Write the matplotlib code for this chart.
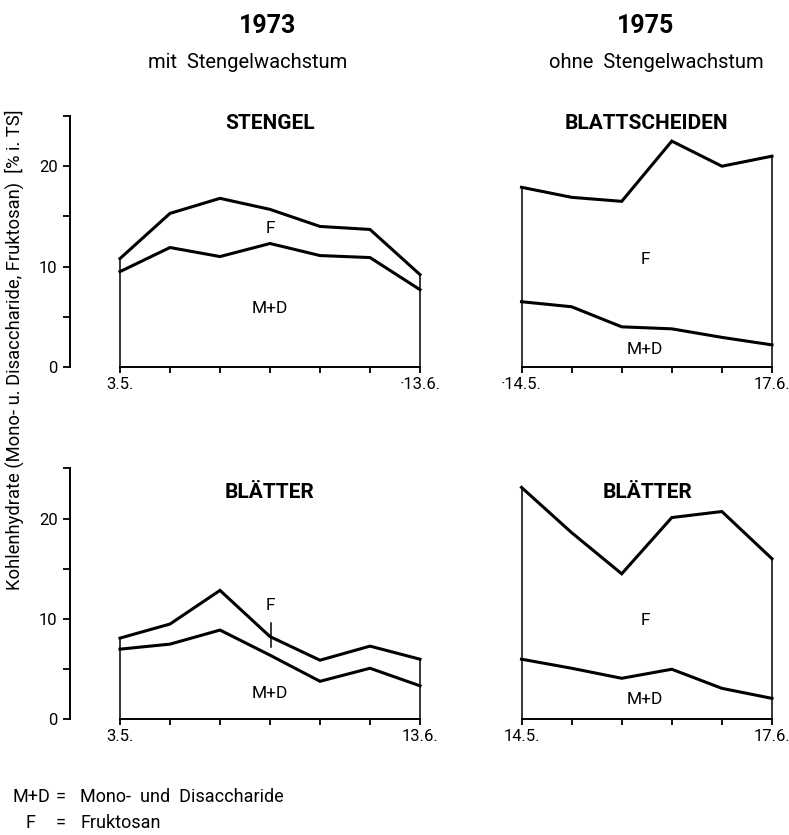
import matplotlib
matplotlib.use("Agg")
import matplotlib.pyplot as plt

plt.rcParams['font.family'] = ['Roboto', 'DejaVu Sans']

# 1973, mit Stengelwachstum (7 Termine)
dates_1973 = ["3.5.", "", "", "", "", "", "13.6."]
stengel_f = [10.8, 15.3, 16.8, 15.7, 14.0, 13.7, 9.2]
stengel_md = [9.5, 11.9, 11.0, 12.3, 11.1, 10.9, 7.7]
blaetter73_f = [8.1, 9.5, 12.85, 8.25, 5.9, 7.3, 6.0]
blaetter73_md = [7.0, 7.5, 8.9, 6.4, 3.8, 5.1, 3.35]

# 1975, ohne Stengelwachstum (6 Termine)
dates_1975 = ["14.5.", "", "", "", "", "17.6."]
scheiden_f = [17.9, 16.9, 16.5, 22.5, 20.0, 21.0]
scheiden_md = [6.5, 6.0, 4.0, 3.8, 2.95, 2.2]
blaetter75_f = [23.1, 18.6, 14.5, 20.1, 20.7, 16.0]
blaetter75_md = [6.0, 5.1, 4.1, 5.0, 3.1, 2.1]

W, H = 789, 835
fig = plt.figure(figsize=(W / 100, H / 100), dpi=100)


def add_axes_px(left, top, width, height):
    return fig.add_axes([left / W, 1 - (top + height) / H, width / W, height / H])


def draw_panel(ax, f, md, labels, title, title_xy, f_xy, md_xy, with_yaxis):
    x = list(range(len(f)))
    ax.plot(x, f, color='black', lw=2.2, solid_joinstyle='miter', clip_on=False)
    ax.plot(x, md, color='black', lw=2.2, solid_joinstyle='miter', clip_on=False)
    ax.vlines([x[0], x[-1]], 0, [f[0], f[-1]], color='black', lw=1.1)

    for s in ['top', 'right']:
        ax.spines[s].set_visible(False)
    ax.spines['bottom'].set_bounds(x[0], x[-1])
    ax.spines['bottom'].set_position(('data', 0))
    ax.spines['bottom'].set_linewidth(1.4)
    ax.set_xticks(x)
    ax.set_xticklabels(labels)
    ax.tick_params(axis='x', direction='out', length=4, width=1.3,
                   labelsize=12, pad=3)

    if with_yaxis:
        ax.spines['left'].set_position(('data', -1))
        ax.spines['left'].set_bounds(0, 25)
        ax.spines['left'].set_linewidth(1.4)
        ax.set_yticks([0, 5, 10, 15, 20, 25])
        ax.set_yticklabels(["0", "", "10", "", "20", ""])
        ax.tick_params(axis='y', direction='out', length=5, width=1.3,
                       labelsize=12, pad=4)
    else:
        ax.spines['left'].set_visible(False)
        ax.set_yticks([])

    ax.text(*title_xy, title, ha='center', va='center', fontsize=15,
            fontweight='bold')
    ax.text(*f_xy, "F", ha='center', va='center', fontsize=12.5)
    ax.text(*md_xy, "M+D", ha='center', va='center', fontsize=12.5)
    ax.patch.set_visible(False)


# top left: Stengel 1973
ax1 = add_axes_px(60, 111, 370, 261)
ax1.set_xlim(-1.2, 6.2)
ax1.set_ylim(-0.5, 25.5)
draw_panel(ax1, stengel_f, stengel_md, dates_1973[:-1] + ["\u00b713.6."],
           "STENGEL", (3.0, 24.3), (3.0, 13.8), (3.0, 5.8), True)

# top right: Blattscheiden 1975
ax2 = add_axes_px(511.5, 111, 270.5, 261)
ax2.set_xlim(-0.2, 5.2)
ax2.set_ylim(-0.5, 25.5)
draw_panel(ax2, scheiden_f, scheiden_md, ["\u00b714.5."] + dates_1975[1:],
           "BLATTSCHEIDEN", (2.5, 24.3), (2.47, 10.75), (2.47, 1.7), False)

# bottom left: Blätter 1973
ax3 = add_axes_px(60, 463.3, 370, 261.2)
ax3.set_xlim(-1.2, 6.2)
ax3.set_ylim(-0.5, 25.5)
draw_panel(ax3, blaetter73_f, blaetter73_md, dates_1973,
           "BLÄTTER", (3.0, 22.6), (3.0, 11.3), (3.0, 2.6), True)
ax3.plot([3.01, 3.01], [9.6, 7.2], color='black', lw=1.1)

# bottom right: Blätter 1975
ax4 = add_axes_px(511.5, 463.3, 270.5, 261.2)
ax4.set_xlim(-0.2, 5.2)
ax4.set_ylim(-0.5, 25.5)
draw_panel(ax4, blaetter75_f, blaetter75_md, dates_1975,
           "BLÄTTER", (2.52, 22.6), (2.47, 9.9), (2.47, 2.0), False)

# headers
fig.text(268 / W, 1 - 26 / H, "1973", ha='center', va='center',
         fontsize=18, fontweight='bold')
fig.text(248 / W, 1 - 63 / H, "mit  Stengelwachstum", ha='center',
         va='center', fontsize=14.5)
fig.text(646 / W, 1 - 26 / H, "1975", ha='center', va='center',
         fontsize=18, fontweight='bold')
fig.text(656 / W, 1 - 63 / H, "ohne  Stengelwachstum", ha='center',
         va='center', fontsize=14.5)

fig.text(14 / W, 1 - 350 / H,
         "Kohlenhydrate (Mono- u. Disaccharide, Fruktosan)  [% i. TS]",
         rotation=90, ha='center', va='center', fontsize=13.2)

# legend
y1, y2 = 1 - 797 / H, 1 - 823 / H
fig.text(13 / W, y1, "M+D", ha='left', va='center', fontsize=13)
fig.text(61 / W, y1, "=", ha='center', va='center', fontsize=13)
fig.text(80 / W, y1, "Mono-  und  Disaccharide", ha='left',
         va='center', fontsize=13)
fig.text(30 / W, y2, "F", ha='center', va='center', fontsize=13)
fig.text(61 / W, y2, "=", ha='center', va='center', fontsize=13)
fig.text(80 / W, y2, "Fruktosan", ha='left', va='center', fontsize=13)

fig.savefig("out.png", dpi=100)
